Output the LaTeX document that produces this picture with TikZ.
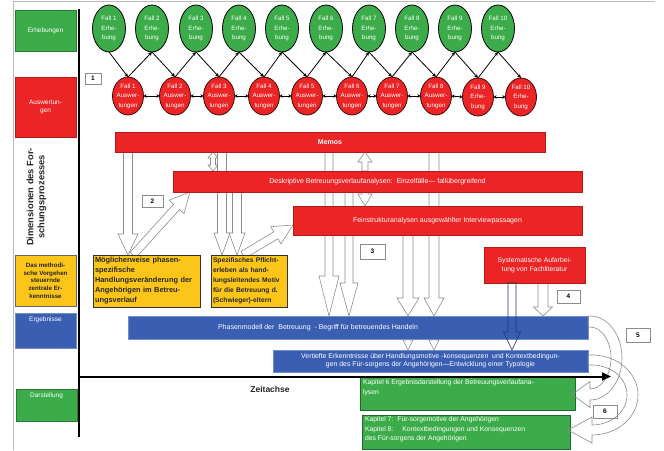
\documentclass[tikz,border=0pt]{standalone}
\usepackage{fontspec}
\setmainfont{Liberation Sans}
\usetikzlibrary{shapes.geometric,calc,arrows.meta,backgrounds}
\definecolor{cgreen}{RGB}{60,172,74}
\definecolor{cred}{RGB}{235,36,38}
\definecolor{cblue}{RGB}{58,94,178}
\definecolor{cyellow}{RGB}{251,197,26}
\definecolor{cline}{RGB}{140,140,140}
\newcommand\myfs[2]{\fontsize{#1}{#2}\selectfont}

\tikzset{
  % hollow block arrow: shaft half-width, head half-width, head length
  blk/.style n args={3}{to path={
    let \p1=(\tikztostart), \p2=(\tikztotarget),
        \n1={veclen(\x2-\x1,\y2-\y1)},
        \n2={(\x2-\x1)/\n1}, \n3={(\y2-\y1)/\n1},
        \p3=({\x2-#3*\n2},{\y2-#3*\n3})
    in ({\x1-#1*\n3},{\y1+#1*\n2}) -- ({\x3-#1*\n3},{\y3+#1*\n2})
       -- ({\x3-#2*\n3},{\y3+#2*\n2}) -- (\p2)
       -- ({\x3+#2*\n3},{\y3-#2*\n2}) -- ({\x3+#1*\n3},{\y3-#1*\n2})
       -- ({\x1+#1*\n3},{\y1-#1*\n2}) -- cycle}},
  % hollow block arrow with a head at both ends
  dblk/.style n args={3}{to path={
    let \p1=(\tikztostart), \p2=(\tikztotarget),
        \n1={veclen(\x2-\x1,\y2-\y1)},
        \n2={(\x2-\x1)/\n1}, \n3={(\y2-\y1)/\n1},
        \p3=({\x2-#3*\n2},{\y2-#3*\n3}),
        \p4=({\x1+#3*\n2},{\y1+#3*\n3})
    in (\p1) -- ({\x4-#2*\n3},{\y4+#2*\n2}) -- ({\x4-#1*\n3},{\y4+#1*\n2})
       -- ({\x3-#1*\n3},{\y3+#1*\n2}) -- ({\x3-#2*\n3},{\y3+#2*\n2}) -- (\p2)
       -- ({\x3+#2*\n3},{\y3-#2*\n2}) -- ({\x3+#1*\n3},{\y3-#1*\n2})
       -- ({\x4+#1*\n3},{\y4-#1*\n2}) -- ({\x4+#2*\n3},{\y4-#2*\n2}) -- cycle}},
}

\begin{document}
\begin{tikzpicture}[x=1pt,y=-1pt,
  every node/.style={inner sep=0pt,outer sep=0pt},
  ell/.style={ellipse,line width=0.8pt},
  gell/.style={ell,draw=black,fill=cgreen,minimum width=33pt,minimum height=47pt},
  rell/.style={ell,draw=black!75!cred,fill=cred,minimum width=31pt,minimum height=38pt},
  elltext/.style={text=white,align=center,font=\myfs{6.2}{9.5}},
  colbox/.style={rectangle,line width=0.5pt,minimum width=61pt,text=white,align=center,font=\myfs{6.5}{8}},
  redbar/.style={rectangle,fill=cred,draw=cred!75!black,line width=0.5pt,text=white,font=\myfs{7}{8.5}},
  bluebar/.style={rectangle,fill=cblue,draw=cblue!70!white,line width=0.5pt,text=white,font=\myfs{7}{8.5}},
  greenbar/.style={rectangle,fill=cgreen,draw=cgreen!60!black,line width=0.5pt},
  yelbox/.style={rectangle,fill=cyellow,draw=black!80,line width=0.6pt,align=left,font=\bfseries\myfs{7.4}{10},text=black!85},
  numbox/.style={rectangle,fill=white,draw=cline,line width=0.6pt,font=\bfseries\myfs{6.5}{7}},
  hol/.style={draw=cline,fill=white,line width=0.6pt,line join=miter},
  flow/.style={line width=0.8pt,-{Stealth[length=4pt,width=3.5pt]}},
  link/.style={line width=0.9pt,{Stealth[length=3pt,width=3.5pt]}-{Stealth[length=3pt,width=3.5pt]}},
  axis/.style={line width=2pt,black}]
\useasboundingbox (0,0) rectangle (664,450);

% outer frame
\draw[cline!60,line width=0.6pt] (13,450) -- (13,1) -- (655,1);

% left column: dimensions of the research process
\node[colbox,fill=cgreen,draw=cgreen!70!black,minimum height=41pt] (lerh) at (45.5,30.5) {Erhebungen};
\node[colbox,fill=cred,draw=cred!75!black,minimum height=60pt] (lausw) at (45.5,107) {Auswertun-\\gen};
\node[rotate=90,align=center,font=\bfseries\myfs{9.3}{11},text=black!85] (ldim) at (36.5,197) {Dimensionen des For-\\schungsprozesses};
\node[colbox,fill=cyellow,draw=black!60,minimum height=51pt,text=black!85,font=\bfseries\myfs{6.2}{7.7}] (lmeth) at (45.5,280.5) {Das methodi-\\sche Vorgehen\\steuernde\\zentrale Er-\\kenntnisse};
\node[colbox,fill=cblue,draw=cblue!70!white,minimum height=35pt,
  label={[text=white,font=\myfs{6.5}{8},anchor=north,yshift=-4pt]north:Ergebnisse}] (lerg) at (45.5,330.5) {};
\node[colbox,fill=cgreen,draw=cgreen!70!black,minimum height=32pt,
  label={[text=white,font=\myfs{6.5}{8},anchor=north,yshift=-4pt]north:Darstellung}] (ldar) at (46.5,405) {};

% axes
\coordinate (vtop) at (78.5,9);
\coordinate (vbot) at (78.5,437);
\coordinate (hstart) at (78.5,376.5);
\coordinate (hend) at (611,376.5);

% data collection (green) and analysis (red) per case
\foreach \i/\px in {1/109,2/152,3/196,4/239,5/282,6/326,7/369,8/412,9/455,10/498}
  \node[gell,label={[elltext]center:Fall \i\\Erhe-\\bung}] (g\i) at (\px,28.5) {};
\foreach \i/\px in {1/128,2/175,3/219,4/264,5/307,6/352,7/392,8/436}
  \node[rell,label={[elltext]center:Fall \i\\Auswer-\\tungen}] (r\i) at (\px,96) {};
\foreach \i/\px in {9/478,10/521}
  \node[rell,label={[elltext]center:Fall \i\\Erhe-\\bung}] (r\i) at (\px,97) {};

\foreach \i in {1,...,10} \draw[flow] (g\i.south) -- (r\i.north);
\foreach \i [evaluate=\i as \j using int(\i+1)] in {1,...,9} {
  \draw[flow] (r\i.north) -- (g\j.south);
  \draw[link] (r\i.east) -- (r\j.west);
}

% analysis bars
\node[redbar,minimum width=430pt,minimum height=20pt,font=\bfseries\myfs{7}{8.5}] (memos) at (330,142) {Memos};
\node[redbar,minimum width=409pt,minimum height=21pt] (desk) at (377.5,181.5) {Deskriptive Betreuungsverlaufanalysen:\ \ Einzelfälle— fallübergreifend};
\node[redbar,minimum width=289pt,minimum height=29pt] (fein) at (437.5,220.5) {Feinstrukturanalysen ausgewählter Interviewpassagen};
\node[redbar,minimum width=101pt,minimum height=36pt,align=center,font=\myfs{6.8}{9}] (syst) at (534.5,265) {Systematische Aufarbei-\\tung von Fachliteratur};

% guiding insights
\node[yelbox,minimum width=107pt,minimum height=52pt,text width=103pt] (ya) at (146.5,281)
  {Möglicherweise phasen-\\spezifische\\Handlungsveränderung der\\Angehörigen im Betreu-\\ungsverlauf};
\node[yelbox,minimum width=76pt,minimum height=52pt,text width=72pt,font=\bfseries\myfs{6.7}{10}] (yb) at (249,281)
  {Spezifisches Pflicht-\\erleben als hand-\\lungsleitendes Motiv\\für die Betreuung d.\\(Schwieger)-eltern};

% results
\node[bluebar,minimum width=460pt,minimum height=23pt,
  label={[text=white,font=\myfs{7}{8.5},xshift=-40pt]center:Phasenmodell der\ \ Betreuung\ \ - Begriff für betreuendes Handeln}] (phas) at (358,327.5) {};
\node[bluebar,minimum width=315pt,minimum height=22pt,align=center,font=\myfs{6.9}{8.3}] (vert) at (430.5,361)
  {Vertiefte Erkenntnisse über Handlungsmotive -konsequenzen\ \ und Kontextbedingun-\\gen des Für-sorgens der Angehörigen—Entwicklung einer Typologie};

% presentation
\node[greenbar,minimum width=215pt,minimum height=33pt,
  label={[text=white,font=\myfs{6.8}{10},align=left,anchor=north west,xshift=3pt,yshift=-3pt]north west:{Kapitel 6 Ergebnisdarstellung der Betreuungsverlaufana-\\lysen}}] (k6) at (467.5,393.5) {};
\node[greenbar,minimum width=208pt,minimum height=34pt,
  label={[text=white,font=\myfs{6.8}{9.5},align=left,anchor=north west,xshift=3pt,yshift=-2pt]north west:{Kapitel 7:\hspace{4pt}Für-sorgemotive der Angehörigen\\Kapitel 8:\hspace{9pt}Kontextbedingungen und Konsequenzen\\des Für-sorgens der Angehörigen}}] (k7) at (466,432) {};

% step numbers
\node[numbox,minimum width=16pt,minimum height=11pt] (n1) at (93,78.5) {1};
\node[numbox,minimum width=21pt,minimum height=12pt] (n2) at (152.5,201) {2};
\node[numbox,minimum width=25pt,minimum height=15pt] (n3) at (372.5,251.5) {3};
\node[numbox,minimum width=23pt,minimum height=13pt] (n4) at (568.5,296.5) {4};
\node[numbox,minimum width=24pt,minimum height=14pt] (n5) at (638,335) {5};
\node[numbox,minimum width=24pt,minimum height=13pt] (n6) at (605,411.5) {6};

% hollow block arrows running behind the bars
\begin{pgfonlayer}{background}
  \fill[white] (0,0) rectangle (664,450);
  \draw[hol,blk={4.5}{10}{21}] (128,0 |- memos.south) to (128,0 |- ya.north);
  \draw[hol,blk={4}{10}{20}] (133,0 |- ya.north) to (190,0 |- desk.south);
  \draw[hol,dblk={2.5}{5}{6}] (213,0 |- memos.south) to (213,0 |- desk.north);
  \draw[hol,blk={4.5}{8}{22}] (222,0 |- memos.south) to (222,0 |- yb.north);
  \draw[hol,blk={4.5}{8}{22}] (237,0 |- desk.south) to (237,0 |- yb.north);
  \draw[hol,blk={4}{10}{20}] (243,0 |- yb.north) to (fein.west |- 0,225);
  \draw[hol,blk={4}{10}{40}] (329,0 |- memos.south) to (329,0 |- phas.north);
  \draw[hol,blk={4}{9}{33}] (349,0 |- desk.south) to (349,0 |- phas.north);
  \draw[hol,blk={3}{7}{10}] (365,0 |- desk.north) to (365,0 |- memos.south);
  \draw[hol,blk={3}{7}{12}] (365,0 |- desk.south) to (365,0 |- fein.north);
  \draw[hol,blk={5}{11}{18}] (408,0 |- fein.south) to (408,0 |- phas.north);
  \draw[hol,blk={5}{10}{18}] (434,0 |- memos.south) to (434,0 |- phas.north);
  \draw[hol,blk={2}{5}{10}] (408,0 |- phas.south) to (408,0 |- vert.north);
  \draw[hol,blk={2}{5}{10}] (434,0 |- phas.south) to (434,0 |- vert.north);
  \draw[hol,blk={5}{9.5}{9}] (543,0 |- syst.south) to (543,0 |- phas.north);
\end{pgfonlayer}

% literature arrow crossing the phase model bar
\draw[draw=cblue!60!black,line width=0.6pt,blk={4}{8.5}{18}] (512,0 |- syst.south) to (512,0 |- vert.north);

% curved arrows from the results into the chapters
\draw[draw=cline,line width=0.6pt,line join=miter]
  (588,316) -- (590,316) .. controls (607.7,316) and (622,334.8) .. (622,358)
  .. controls (622,381.2) and (607.7,400) .. (590,400) -- (590,407.5) -- (572,394.5)
  -- (590,381.5) -- (590,389) .. controls (601.6,389) and (611,375.1) .. (611,358)
  .. controls (611,340.9) and (601.6,327) .. (590,327) -- (588,327) -- cycle;
\draw[draw=cline,line width=0.6pt,line join=miter]
  (588,355) -- (592,355) .. controls (617.4,355) and (638,372.9) .. (638,395)
  .. controls (638,417.1) and (617.4,435) .. (592,435) -- (592,443) -- (568,430)
  -- (592,417) -- (592,425) .. controls (611.3,425) and (627,411.6) .. (627,395)
  .. controls (627,378.4) and (611.3,365) .. (592,365) -- (588,365) -- cycle;

% axes
\draw[axis] (vtop) -- (vbot);
\draw[axis,-{Triangle[length=9pt,width=8pt]}] (hstart) -- (hend);
\node[font=\bfseries\myfs{8.5}{10},text=black!85] (zeit) at (270,389) {Zeitachse};
\end{tikzpicture}
\end{document}
